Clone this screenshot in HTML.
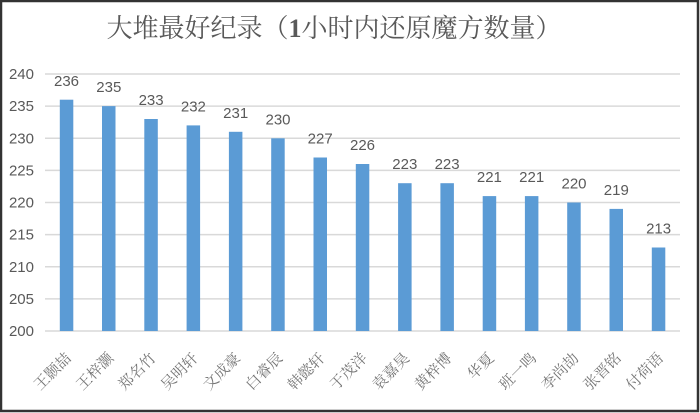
<!DOCTYPE html>
<html><head><meta charset="utf-8"><style>
html,body{margin:0;padding:0;background:#fff;}
svg{display:block;}
</style></head><body>
<svg width="700" height="413" viewBox="0 0 700 413" xmlns="http://www.w3.org/2000/svg">
<rect x="0" y="0" width="700" height="413" fill="#fff"/>
<rect x="1" y="1" width="697" height="410" fill="none" stroke="#333" stroke-width="2.5"/>
<text x="334" y="37" text-anchor="middle" font-family="'Liberation Serif','Noto Serif CJK SC',serif" font-size="26" fill="#595959">大堆最好纪录（<tspan font-weight="bold">1</tspan>小时内还原魔方数量）</text>
<g stroke="#d9d9d9" stroke-width="1.5">
<line x1="45" x2="680" y1="74" y2="74"/>
<line x1="45" x2="680" y1="106.1" y2="106.1"/>
<line x1="45" x2="680" y1="138.3" y2="138.3"/>
<line x1="45" x2="680" y1="170.4" y2="170.4"/>
<line x1="45" x2="680" y1="202.5" y2="202.5"/>
<line x1="45" x2="680" y1="234.6" y2="234.6"/>
<line x1="45" x2="680" y1="266.8" y2="266.8"/>
<line x1="45" x2="680" y1="298.9" y2="298.9"/>
<line x1="45" x2="680" y1="331" y2="331"/>
</g>
<g font-family="'Liberation Sans',sans-serif" font-size="15" fill="#595959" text-anchor="end">
<text x="34" y="79">240</text>
<text x="34" y="111.1">235</text>
<text x="34" y="143.3">230</text>
<text x="34" y="175.4">225</text>
<text x="34" y="207.5">220</text>
<text x="34" y="239.6">215</text>
<text x="34" y="271.8">210</text>
<text x="34" y="303.9">205</text>
<text x="34" y="336">200</text>
</g>
<g fill="#5b9bd5">
<rect x="59.8" y="99.7" width="13.5" height="231.3"/>
<rect x="102.0" y="106.1" width="13.5" height="224.9"/>
<rect x="144.3" y="119.0" width="13.5" height="212.0"/>
<rect x="186.6" y="125.4" width="13.5" height="205.6"/>
<rect x="228.9" y="131.8" width="13.5" height="199.2"/>
<rect x="271.2" y="138.3" width="13.5" height="192.7"/>
<rect x="313.5" y="157.5" width="13.5" height="173.5"/>
<rect x="355.8" y="164.0" width="13.5" height="167.0"/>
<rect x="398.1" y="183.2" width="13.5" height="147.8"/>
<rect x="440.4" y="183.2" width="13.5" height="147.8"/>
<rect x="482.7" y="196.1" width="13.5" height="134.9"/>
<rect x="524.9" y="196.1" width="13.5" height="134.9"/>
<rect x="567.2" y="202.5" width="13.5" height="128.5"/>
<rect x="609.5" y="208.9" width="13.5" height="122.1"/>
<rect x="651.8" y="247.5" width="13.5" height="83.5"/>
</g>
<g font-family="'Liberation Sans',sans-serif" font-size="15" fill="#595959" text-anchor="middle">
<text x="66.5" y="86">236</text>
<text x="108.8" y="92.1">235</text>
<text x="151.1" y="105">233</text>
<text x="193.4" y="111.4">232</text>
<text x="235.7" y="117.8">231</text>
<text x="278.0" y="124.3">230</text>
<text x="320.2" y="143.5">227</text>
<text x="362.5" y="150">226</text>
<text x="404.8" y="169.2">223</text>
<text x="447.1" y="169.2">223</text>
<text x="489.4" y="182.1">221</text>
<text x="531.7" y="182.1">221</text>
<text x="574.0" y="188.5">220</text>
<text x="616.3" y="194.9">219</text>
<text x="658.6" y="233.5">213</text>
</g>
<g font-family="'Liberation Serif','Noto Serif CJK SC',serif" font-size="15" fill="#767676" text-anchor="end">
<text transform="translate(72,359) rotate(-45)">王颢喆</text>
<text transform="translate(114.3,359) rotate(-45)">王梓灏</text>
<text transform="translate(156.6,359) rotate(-45)">郑名竹</text>
<text transform="translate(198.9,359) rotate(-45)">吴明轩</text>
<text transform="translate(241.2,359) rotate(-45)">文成豪</text>
<text transform="translate(283.5,359) rotate(-45)">白睿辰</text>
<text transform="translate(325.7,359) rotate(-45)">韩懿轩</text>
<text transform="translate(368.0,359) rotate(-45)">于茂洋</text>
<text transform="translate(410.3,359) rotate(-45)">袁嘉昊</text>
<text transform="translate(452.6,359) rotate(-45)">黄梓博</text>
<text transform="translate(494.9,359) rotate(-45)">华夏</text>
<text transform="translate(537.2,359) rotate(-45)">班一鸣</text>
<text transform="translate(579.5,359) rotate(-45)">李尚劼</text>
<text transform="translate(621.8,359) rotate(-45)">张晋铭</text>
<text transform="translate(664.1,359) rotate(-45)">付荷语</text>
</g>
</svg>
</body></html>
